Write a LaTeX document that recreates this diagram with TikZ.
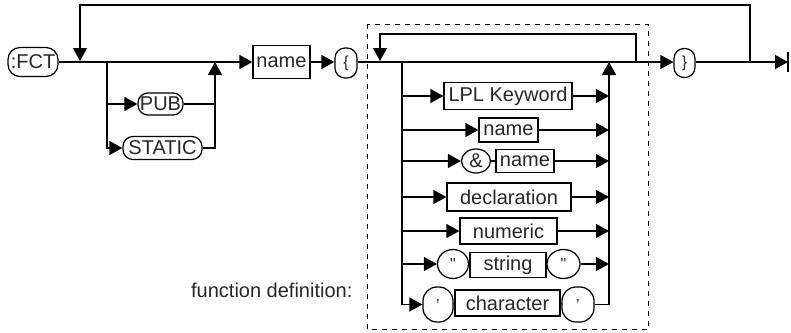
\documentclass[tikz,border=0pt]{standalone}
\usepackage{fontspec}
\setmainfont{Liberation Sans}
\usetikzlibrary{arrows.meta,shapes.geometric,calc}
\begin{document}
\begin{tikzpicture}[x=1pt,y=-1pt,
  line width=1.25pt, line join=miter,
  arr/.style={-{Triangle[length=13pt,width=14pt]}},
  base/.style={draw, inner sep=0pt, font=\fontsize{20}{23}\selectfont, text=black!85},
  nterm/.style={base, rectangle},
  term/.style={base, rectangle, rounded corners=#1},
  oval/.style={base, ellipse},
  qfont/.style={font=\fontsize{16}{17}\selectfont},
  bfont/.style={font=\fontsize{16}{17}\selectfont},
  dbox/.style={line width=1pt, dash pattern=on 5pt off 5pt}
]
\useasboundingbox (0,0) rectangle (791,332);

% top-level nodes
\node[term=12pt, minimum width=50pt, minimum height=29pt] (fct) at (33,62) {:FCT};
\node[term=10pt, minimum width=45pt, minimum height=22pt] (pub) at (160.5,104) {PUB};
\node[term=10pt, minimum width=79pt, minimum height=23pt] (static) at (162.5,148) {STATIC};
\node[nterm, minimum width=57pt, minimum height=33pt] (name1) at (281.5,62) {name};
\node[term=10pt, bfont, minimum width=22pt, minimum height=30pt] (lb) at (346,63) {\{};
\node[term=10pt, bfont, minimum width=21pt, minimum height=29pt] (rb) at (684.5,63) {\}};

% inner rows
\node[nterm, minimum width=128pt, minimum height=27pt] (lpl) at (508,96) {LPL Keyword};
\node[nterm, minimum width=59pt, minimum height=24pt] (name2) at (508.5,130) {name};
\node[oval, minimum width=29pt, minimum height=24pt] (amp) at (476,161) {\&};
\node[nterm, minimum width=58pt, minimum height=23pt] (name3) at (525,161) {name};
\node[nterm, minimum width=124pt, minimum height=28pt] (decl) at (509,197) {declaration};
\node[nterm, minimum width=97pt, minimum height=26pt] (num) at (508.5,231) {numeric};
\node[oval, qfont, minimum width=31pt, minimum height=29pt] (q1) at (453,264) {\textquotedbl};
\node[nterm, minimum width=76pt, minimum height=25pt] (str) at (508,265) {string};
\node[oval, qfont, minimum width=33pt, minimum height=29pt] (q2) at (563.5,264) {\textquotedbl};
\node[term=14pt, qfont, minimum width=30pt, minimum height=35pt] (a1) at (438,304.5) {’};
\node[nterm, minimum width=105pt, minimum height=26pt] (chr) at (507.5,303) {character};
\node[term=14pt, qfont, minimum width=32pt, minimum height=35pt] (a2) at (578,304.5) {’};

\node[font=\fontsize{20}{23}\selectfont, text=black!85, anchor=east, inner sep=0pt] (lbl) at (353,290) {function definition:};

% coordinates
\coordinate (oR) at (750,62);
\coordinate (oRt) at (750,5);
\coordinate (oLt) at (80,5);
\coordinate (oL) at (80,61);
\coordinate (b1) at (107,62);
\coordinate (b1r) at (215,62);
\coordinate (iR) at (636,62);
\coordinate (iRt) at (636,34);
\coordinate (iLt) at (380,34);
\coordinate (iL) at (380,61);
\coordinate (b2) at (402,62);
\coordinate (b2r) at (609,62);
\coordinate (endc) at (788,62);
\coordinate (endt) at (788,52);
\coordinate (endb) at (788,72);

% dashed frame
\draw[dbox] (367,24) rectangle (648,329.5);

% main line
\draw[arr] (fct.east) -- (name1.west);
\draw[arr] (name1.east) -- (lb.west |- name1.east);
\draw[arr] (lb.east |- b2) -- (rb.west |- b2);
\draw[arr] (rb.east |- endc) -- (endc);
\draw (endt) -- (endb);

% outer loop
\draw[arr] (oR) -- (oRt) -- (oLt) -- (oL);

% PUB / STATIC branch
\draw[arr] (b1) |- (pub.west);
\draw[arr] (b1) |- (static.west);
\draw (pub.east) -- (pub.east -| b1r);
\draw[arr] (static.east) -| (b1r);

% inner loop
\draw[arr] (iR) -- (iRt) -- (iLt) -- (iL);

% inner branches
\draw[arr] (b2) |- (lpl.west);
\draw[arr] (lpl.east) -- (lpl.east -| b2r);
\draw[arr] (b2) |- (name2.west);
\draw[arr] (name2.east) -- (name2.east -| b2r);
\draw[arr] (b2) |- (amp.west);
\draw (amp.east) -- (name3.west);
\draw[arr] (name3.east) -- (name3.east -| b2r);
\draw[arr] (b2) |- (decl.west);
\draw[arr] (decl.east) -- (decl.east -| b2r);
\draw[arr] (b2) |- (num.west);
\draw[arr] (num.east) -- (num.east -| b2r);
\draw[arr] (b2) |- (q1.west);
\draw (q1.east) -- (str.west);
\draw (str.east) -- (q2.west);
\draw[arr] (q2.east) -- (q2.east -| b2r);
\draw[arr] (b2) |- (a1.west);
\draw (a1.east) -- (chr.west);
\draw (chr.east) -- (a2.west);
\draw[arr] (a2.east) -| (b2r);
\end{tikzpicture}
\end{document}
